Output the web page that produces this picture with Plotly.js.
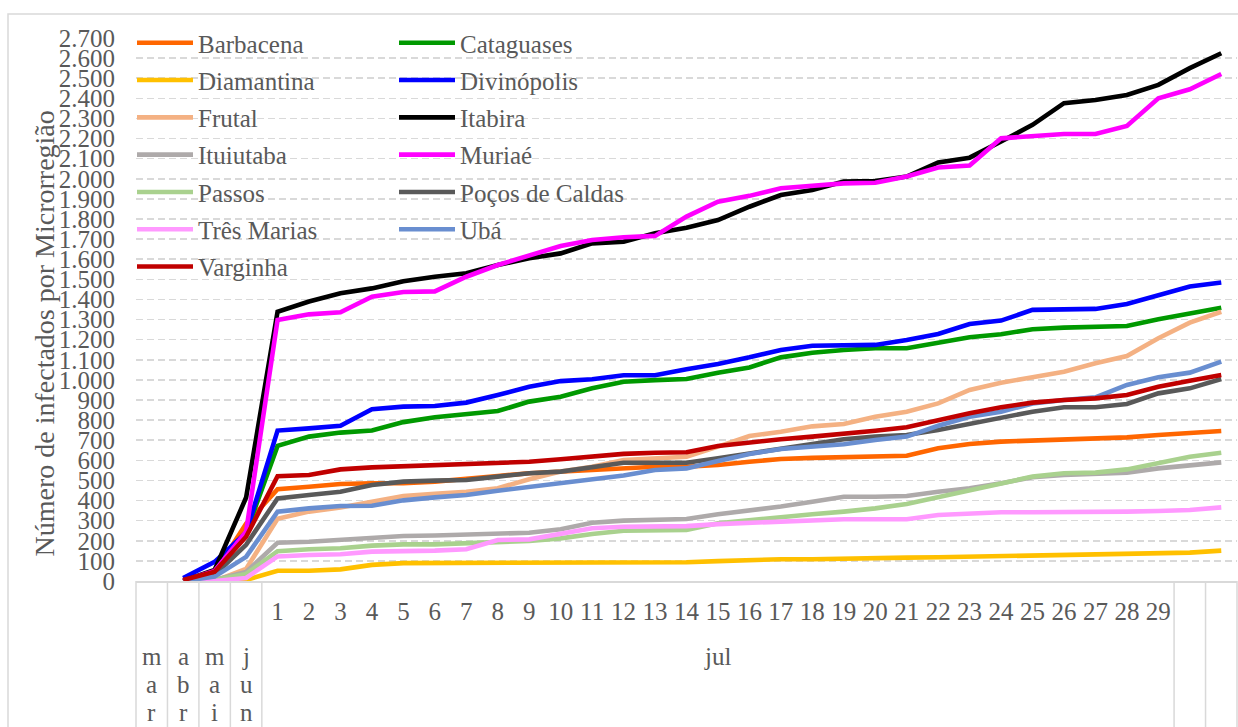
<!DOCTYPE html>
<html><head><meta charset="utf-8">
<script src="https://cdn.plot.ly/plotly-3.0.1.min.js"></script>
<style>html,body{margin:0;padding:0;background:#fff;overflow:hidden}#chart{width:1238px;height:727px}</style>
</head><body><div id="chart"></div>
<script>
// ---------- categories ----------
const monthLabels = ['mar', 'abr', 'mai', 'jun'];
const julyLabel = 'jul';
const julyDayLabels = ['1','2','3','4','5','6','7','8','9','10','11','12','13','14','15','16','17','18','19','20','21','22','23','24','25','26','27','28','29','',''];

// ---------- series values (mar, abr, mai, jun, jul 1..31) ----------
const barbacena   = [null, 0, 40, 285, 456, 469, 482, 486, 486, 494, 506, 522, 536, 544, 552, 560, 568, 568, 577, 593, 607, 612, 615, 618, 623, 660, 681, 693, 698, 706, 706, 714, 726, 734, 746];
const cataguases  = [null, 0, 30, 240, 672, 718, 738, 748, 790, 814, 829, 845, 892, 916, 958, 991, 999, 1004, 1036, 1062, 1112, 1135, 1149, 1157, 1157, 1185, 1212, 1227, 1252, 1260, 1262, 1268, 1301, 1331, 1359];
const diamantina  = [null, 0, 0, 5, 51, 51, 58, 80, 89, 89, 89, 91, 91, 91, 91, 91, 93, 93, 99, 104, 108, 108, 109, 113, 116, 118, 121, 124, 126, 129, 129, 133, 138, 141, 151];
const divinopolis = [null, 15, 95, 240, 748, 759, 772, 854, 867, 870, 887, 925, 966, 994, 1003, 1023, 1023, 1053, 1079, 1112, 1149, 1170, 1174, 1174, 1198, 1228, 1278, 1295, 1348, 1353, 1353, 1377, 1422, 1464, 1484];
const frutal      = [null, 0, 0, 60, 310, 345, 365, 394, 423, 433, 444, 461, 506, 544, 568, 602, 610, 618, 668, 721, 742, 769, 781, 817, 842, 883, 950, 986, 1013, 1041, 1083, 1119, 1207, 1285, 1339];
const itabira     = [null, 0, 55, 415, 1339, 1390, 1431, 1455, 1490, 1513, 1530, 1571, 1605, 1629, 1679, 1687, 1729, 1757, 1795, 1861, 1919, 1944, 1986, 1989, 2011, 2081, 2105, 2185, 2268, 2376, 2392, 2417, 2467, 2550, 2624];
const ituiutaba   = [null, 0, 5, 45, 190, 195, 204, 217, 224, 226, 229, 234, 240, 257, 290, 300, 303, 308, 332, 350, 370, 394, 419, 419, 423, 444, 461, 486, 516, 527, 531, 539, 560, 577, 590];
const muriae      = [null, 0, 50, 245, 1298, 1326, 1336, 1414, 1437, 1440, 1513, 1571, 1621, 1666, 1696, 1709, 1716, 1812, 1886, 1915, 1953, 1964, 1977, 1980, 2011, 2056, 2066, 2201, 2213, 2223, 2223, 2263, 2400, 2445, 2521];
const passos      = [null, 0, 5, 35, 148, 158, 163, 176, 182, 182, 187, 196, 199, 212, 234, 250, 250, 254, 287, 303, 317, 332, 345, 361, 383, 416, 453, 486, 519, 536, 539, 555, 585, 618, 638];
const pocosCaldas = [null, 0, 30, 180, 411, 428, 444, 477, 494, 499, 502, 519, 536, 544, 565, 588, 588, 588, 610, 635, 660, 685, 705, 718, 726, 751, 781, 814, 842, 864, 864, 880, 933, 958, 1004];
const tresMarias  = [null, 0, 0, 15, 122, 129, 133, 146, 148, 151, 158, 204, 207, 234, 262, 270, 273, 273, 283, 290, 295, 303, 307, 307, 307, 328, 337, 342, 342, 342, 342, 345, 348, 353, 366];
const uba         = [null, 0, 22, 120, 345, 361, 373, 374, 401, 416, 428, 449, 468, 485, 505, 525, 552, 560, 597, 632, 656, 670, 680, 701, 718, 772, 817, 842, 883, 900, 913, 975, 1013, 1036, 1091];
const varginha    = [null, 5, 46, 220, 521, 527, 555, 565, 570, 577, 582, 585, 593, 605, 618, 632, 638, 640, 671, 690, 705, 718, 731, 747, 764, 801, 834, 864, 887, 900, 908, 925, 966, 996, 1024];

const seriesNames = ['Barbacena','Cataguases','Diamantina','Divinópolis','Frutal','Itabira','Ituiutaba','Muriaé','Passos','Poços de Caldas','Três Marias','Ubá','Varginha'];
const seriesValues = [barbacena, cataguases, diamantina, divinopolis, frutal, itabira, ituiutaba, muriae, passos, pocosCaldas, tresMarias, uba, varginha];

// ---------- styles ----------
const seriesColors = ['#FF6600','#009900','#FFC000','#0000FF','#F4B183','#000000','#AEAAAA','#FF00FF','#A9D18E','#595959','#FF99FF','#698ED0','#C00000'];
const FONT = 'Liberation Serif, Times New Roman, serif';
const TXT = '#595959';
const GRID = '#d9d9d9';

const W = 1238, H = 727, ML = 136, MR = 1, MT = 38, MB = 146;
const PW = W - ML - MR, PH = H - MT - MB;
const px2x = p => (p - ML) / PW;
const py2y = p => (H - MB - p) / PH;

const categories = monthLabels.concat(julyDayLabels);
const xIdx = categories.map((c, i) => i);
const nCat = categories.length;

const traces = seriesNames.map((name, k) => ({
  type: 'scatter', mode: 'lines', name: name,
  x: xIdx, y: seriesValues[k],
  line: { color: seriesColors[k], width: 4.6, shape: 'linear' },
  legend: (k % 2 === 0) ? 'legend' : 'legend2',
  legendgroup: name,
  hoverinfo: 'name+y'
}));

// day tick positions
const tickvals = [], ticktext = [];
julyDayLabels.forEach((d, j) => { if (d !== '') { tickvals.push(monthLabels.length + j); ticktext.push(d); } });

// separators: around month categories and around unlabeled days
const bounds = new Set();
categories.forEach((c, i) => {
  if (i < monthLabels.length || c === '') { bounds.add(i - 0.5); bounds.add(i + 0.5); }
});
const shapes = [];
bounds.forEach(b => {
  const xp = (b + 0.5) / nCat;
  shapes.push({ type: 'line', xref: 'paper', yref: 'paper', x0: xp, x1: xp, y0: 0, y1: py2y(760), line: { color: GRID, width: 1.5 }, layer: 'below' });
});
// chart border
shapes.push({ type: 'rect', xref: 'paper', yref: 'paper', x0: px2x(8), x1: px2x(1260), y0: py2y(14), y1: py2y(760), line: { color: GRID, width: 1.5 }, layer: 'below' });

const annotations = [];
monthLabels.forEach((m, i) => {
  m.split('').forEach((ch, j) => {
    annotations.push({ xref: 'x', yref: 'paper', x: i, y: py2y(656.5 + j * 27.8), text: ch, showarrow: false,
      xanchor: 'center', yanchor: 'middle', font: { family: FONT, size: 25, color: TXT } });
  });
});
annotations.push({ xref: 'x', yref: 'paper', x: (tickvals[0] + tickvals[tickvals.length - 1]) / 2, y: py2y(656.5), text: julyLabel,
  showarrow: false, xanchor: 'center', yanchor: 'middle', font: { family: FONT, size: 25, color: TXT } });
annotations.push({ xref: 'paper', yref: 'paper', x: px2x(44), y: py2y(333.5), text: 'Número de infectados por Microrregião',
  textangle: -90, showarrow: false, xanchor: 'center', yanchor: 'middle', font: { family: FONT, size: 28, color: TXT } });

const legendCommon = {
  bgcolor: 'rgba(0,0,0,0)', borderwidth: 0, orientation: 'v', xanchor: 'left', yanchor: 'top',
  font: { family: FONT, size: 25, color: TXT }, itemwidth: 56, tracegroupgap: 1.8, itemclick: false, itemdoubleclick: false
};

const layout = {
  width: W, height: H,
  margin: { l: ML, r: MR, t: MT, b: MB, autoexpand: false },
  paper_bgcolor: '#ffffff', plot_bgcolor: 'rgba(0,0,0,0)',
  separators: ',.',
  font: { family: FONT, color: TXT },
  showlegend: true,
  xaxis: { range: [-0.5, nCat - 0.5], tickmode: 'array', tickvals: tickvals, ticktext: ticktext,
    showgrid: false, zeroline: false, showline: true, linecolor: GRID, linewidth: 1.5, ticks: '',
    tickfont: { family: FONT, size: 25, color: TXT }, ticklabelstandoff: 7, fixedrange: true },
  yaxis: { range: [0, 2700], tick0: 0, dtick: 100, tickformat: ',d', showgrid: true, gridcolor: GRID, gridwidth: 1.5,
    griddash: '7px,4px', zeroline: false, showline: false, ticks: '',
    tickfont: { family: FONT, size: 25, color: TXT }, ticklabelstandoff: 20, fixedrange: true },
  legend: Object.assign({}, legendCommon, { x: px2x(132), y: py2y(20) }),
  legend2: Object.assign({}, legendCommon, { x: px2x(394), y: py2y(20) }),
  shapes: shapes,
  annotations: annotations
};

Plotly.newPlot('chart', traces, layout, { displayModeBar: false, staticPlot: true });
</script>
</body></html>
